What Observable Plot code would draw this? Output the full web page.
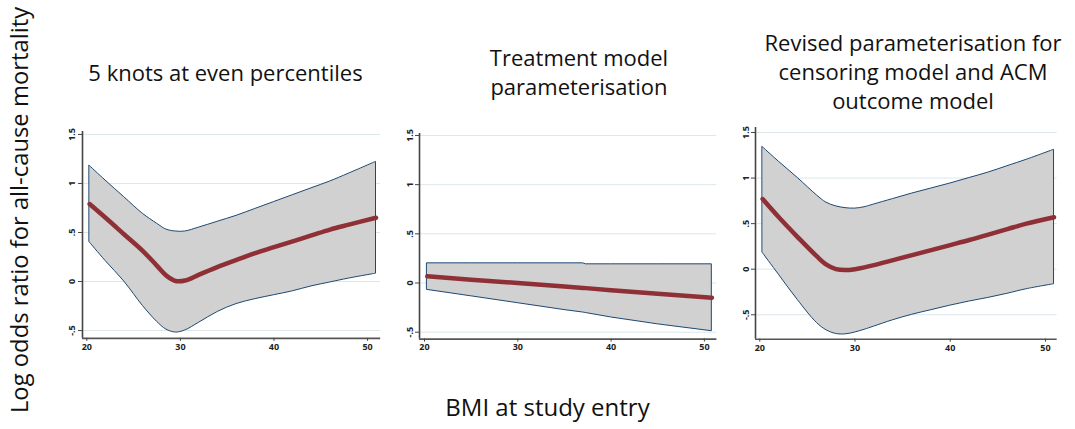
<!DOCTYPE html>
<html>
<head>
<meta charset="utf-8">
<script src="https://cdn.jsdelivr.net/npm/d3@7"></script>
<script src="https://cdn.jsdelivr.net/npm/@observablehq/plot@0.6"></script>
<style>
  body { margin: 0; background: #fff; }
  #chart { position: relative; width: 1075px; height: 429px; overflow: hidden;
           font-family: "Open Sans", sans-serif; color: #111; }
  .title { position: absolute; text-align: center; font-size: 22px; line-height: 29px;
           white-space: nowrap; transform: translateX(-50%); }
  .panel { position: absolute; }
  .ytitle { position: absolute; font-size: 23.8px; white-space: nowrap;
            transform: translate(-50%, -50%) rotate(-90deg); }
  .xtitle { position: absolute; font-size: 24px; white-space: nowrap; transform: translateX(-50%); }
</style>
</head>
<body>
<div id="chart"></div>
<script>
// Panel 1: 5 knots at even percentiles
const bmi1 = [20.3, 22, 24, 26, 27.5, 28.5, 29.5, 30.5, 32, 34, 36, 38, 40, 42, 44, 46, 48, 50.9];
const est1 = [0.79, 0.65, 0.48, 0.31, 0.16, 0.06, 0.005, 0.01, 0.07, 0.15, 0.22, 0.29, 0.35, 0.41, 0.47, 0.53, 0.58, 0.65];
const lo1  = [0.40, 0.21, 0.00, -0.25, -0.41, -0.49, -0.52, -0.50, -0.42, -0.31, -0.23, -0.18, -0.14, -0.10, -0.05, -0.01, 0.03, 0.08];
const hi1  = [1.18, 1.03, 0.86, 0.69, 0.59, 0.53, 0.51, 0.51, 0.55, 0.61, 0.67, 0.74, 0.81, 0.88, 0.95, 1.02, 1.10, 1.22];

// Panel 2: treatment model parameterisation
const bmi2 = [20.3, 25, 30, 35, 37, 37.3, 40, 45, 50.8];
const est2 = [0.068, 0.034, 0.000, -0.036, -0.050, -0.052, -0.073, -0.108, -0.150];
const lo2  = [-0.07, -0.135, -0.205, -0.275, -0.30, -0.305, -0.35, -0.42, -0.49];
const hi2  = [0.20, 0.20, 0.20, 0.20, 0.20, 0.19, 0.19, 0.19, 0.19];

// Panel 3: revised parameterisation
const bmi3 = [20.3, 22, 24, 26, 27, 28, 29, 30, 31, 32, 34, 36, 38, 40, 42, 44, 46, 48, 50.9];
const est3 = [0.77, 0.57, 0.35, 0.14, 0.05, 0.0, -0.01, 0.00, 0.02, 0.045, 0.10, 0.155, 0.21, 0.265, 0.32, 0.38, 0.44, 0.50, 0.57];
const lo3  = [0.18, -0.06, -0.34, -0.59, -0.67, -0.71, -0.715, -0.695, -0.665, -0.63, -0.56, -0.50, -0.45, -0.40, -0.355, -0.315, -0.27, -0.22, -0.165];
const hi3  = [1.34, 1.18, 1.00, 0.81, 0.73, 0.69, 0.67, 0.665, 0.68, 0.71, 0.77, 0.83, 0.885, 0.94, 1.00, 1.06, 1.13, 1.20, 1.31];

const yTicks = [-0.5, 0, 0.5, 1, 1.5];
const yTickLabels = ["-.5", "0", ".5", "1", "1.5"];
const xTicks = [20, 30, 40, 50];

const titles = [
  ["5 knots at even percentiles"],
  ["Treatment model", "parameterisation"],
  ["Revised parameterisation for", "censoring model and ACM", "outcome model"]
];
const xTitle = "BMI at study entry";
const yTitle = "Log odds ratio for all-cause mortality";

const rows = (x, est, lo, hi) => x.map((v, i) => ({bmi: v, est: est[i], lo: lo[i], hi: hi[i]}));

// plot frame (page px) and scale domains for each panel
const panels = [
  {data: rows(bmi1, est1, lo1, hi1), frame: [81.7, 379.9, 131.4, 338.3], xd: [19.54, 51.4], yd: [-0.58, 1.53], curve: "catmull-rom"},
  {data: rows(bmi2, est2, lo2, hi2), frame: [419.3, 716.7, 132.7, 338.3], xd: [19.464, 51.34], yd: [-0.57, 1.52], curve: "linear"},
  {data: rows(bmi3, est3, lo3, hi3), frame: [755, 1056.7, 127.3, 339], xd: [19.55, 51.23], yd: [-0.768, 1.555], curve: "catmull-rom"}
];

const chart = document.getElementById("chart");
const mL = 40, mR = 10, mT = 15, mB = 25;

panels.forEach(p => {
  const [l, r, t, b] = p.frame;
  const svg = Plot.plot({
    width: r - l + mL + mR,
    height: b - t + mT + mB,
    marginLeft: mL, marginRight: mR, marginTop: mT, marginBottom: mB,
    x: {domain: p.xd},
    y: {domain: p.yd},
    style: {background: "transparent", overflow: "visible"},
    marks: [
      Plot.gridY(yTicks, {stroke: "#dde7ea", strokeOpacity: 1, strokeWidth: 1}),
      Plot.areaY(p.data, {x: "bmi", y1: "lo", y2: "hi", fill: "#d1d1d1", stroke: "#1d4770", strokeWidth: 1, curve: p.curve}),
      Plot.line(p.data, {x: "bmi", y: "est", stroke: "#8f3037", strokeWidth: 4.5, curve: p.curve}),
      Plot.ruleX([p.xd[0]], {stroke: "#444", strokeWidth: 1.6}),
      Plot.ruleY([p.yd[0]], {stroke: "#555", strokeWidth: 1.6}),
      Plot.axisY(yTicks, {tickFormat: d => yTickLabels[yTicks.indexOf(d)], tickRotate: -90, tickSize: 4,
                          tickPadding: 3, fontSize: 9, fontWeight: "bold", stroke: "#444", fill: "#222", label: null}),
      Plot.axisX(xTicks, {tickSize: 3, tickPadding: 2, fontSize: 9, fontWeight: "bold", stroke: "#444", fill: "#222", label: null})
    ]
  });
  svg.classList.add("panel");
  svg.style.left = (l - mL) + "px";
  svg.style.top = (t - mT) + "px";
  chart.appendChild(svg);
});

// panel titles
const titleSpecs = [
  {cx: 225.5, top: 58},
  {cx: 579, top: 43},
  {cx: 913, top: 28}
];
titles.forEach((lines, i) => {
  const d = document.createElement("div");
  d.className = "title";
  d.style.left = titleSpecs[i].cx + "px";
  d.style.top = titleSpecs[i].top + "px";
  d.innerHTML = lines.join("<br>");
  chart.appendChild(d);
});

const xt = document.createElement("div");
xt.className = "xtitle";
xt.style.left = "547.5px";
xt.style.top = "390px";
xt.textContent = xTitle;
chart.appendChild(xt);

const yt = document.createElement("div");
yt.className = "ytitle";
yt.style.left = "19px";
yt.style.top = "210px";
yt.textContent = yTitle;
chart.appendChild(yt);
</script>
</body>
</html>
